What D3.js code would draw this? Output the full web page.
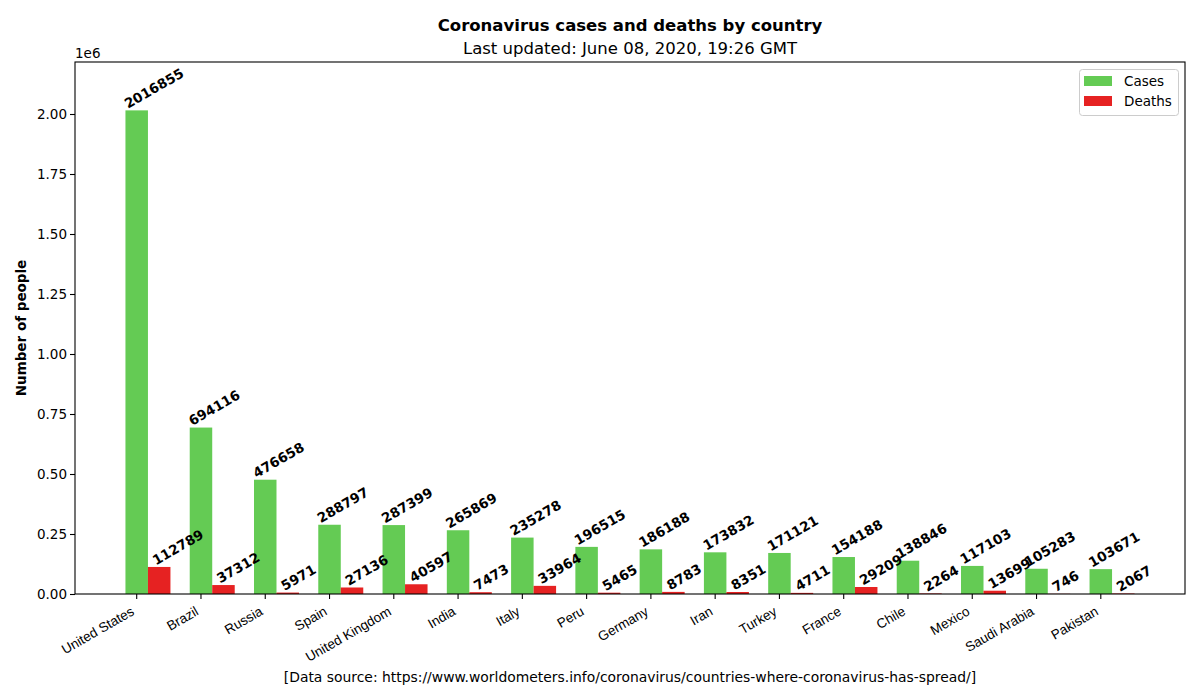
<!DOCTYPE html>
<html><head><meta charset="utf-8">
<script src="https://cdn.jsdelivr.net/npm/d3@7"></script>
<style>body{margin:0;background:#fff}svg{display:block;font-family:"DejaVu Sans",sans-serif}</style>
</head><body>
<svg id="c" width="1200" height="700"></svg>
<script>
const countries = ["United States","Brazil","Russia","Spain","United Kingdom","India","Italy","Peru","Germany","Iran","Turkey","France","Chile","Mexico","Saudi Arabia","Pakistan"];
const cases = [2016855,694116,476658,288797,287399,265869,235278,196515,186188,173832,171121,154188,138846,117103,105283,103671];
const deaths = [112789,37312,5971,27136,40597,7473,33964,5465,8783,8351,4711,29209,2264,13699,746,2067];
const yTicks = [0,0.25e6,0.5e6,0.75e6,1.0e6,1.25e6,1.5e6,1.75e6,2.0e6];
const seriesNames = ["Cases","Deaths"];
const colors = ["#64cb54","#e62222"];
const titleText = "Coronavirus cases and deaths by country";
const subtitleText = "Last updated: June 08, 2020, 19:26 GMT";
const sourceText = "[Data source: https://www.worldometers.info/coronavirus/countries-where-coronavirus-has-spread/]";
const yLabel = "Number of people";

const svg = d3.select("#c");
const L=75,R=1185,T=62,B=594;
const w = 0.35;
const n = countries.length;
const x = d3.scaleLinear().domain([-w/2 - 0.05*(n-1+w*2), (n-1)+1.5*w + 0.05*(n-1+w*2)]).range([L,R]);
const y = d3.scaleLinear().domain([0, d3.max(cases)*1.1]).range([B,T]);

// bars
const g = svg.append("g");
g.selectAll("rect.c").data(cases).join("rect")
  .attr("x",(d,i)=>x(i-w/2)).attr("width",(d,i)=>x(i+w/2)-x(i-w/2))
  .attr("y",d=>y(d)).attr("height",d=>B-y(d)).attr("fill",colors[0]);
g.selectAll("rect.d").data(deaths).join("rect")
  .attr("x",(d,i)=>x(i+w/2)).attr("width",(d,i)=>x(i+1.5*w)-x(i+w/2))
  .attr("y",d=>y(d)).attr("height",d=>B-y(d)).attr("fill",colors[1]);

// value labels
const lab = svg.append("g").attr("font-weight","bold").attr("font-size","13.5px").attr("fill","#000");
cases.forEach((v,i)=>{
  lab.append("text").attr("transform",`translate(${x(i-w/2)+2.5},${y(v)-1.5}) rotate(-30)`).text(v);
  lab.append("text").attr("transform",`translate(${x(i+w/2)+8},${y(deaths[i])-1.5}) rotate(-30)`).text(deaths[i]);
});

// axes frame
svg.append("rect").attr("x",L).attr("y",T).attr("width",R-L).attr("height",B-T)
  .attr("fill","none").attr("stroke","#000").attr("stroke-width",1.1);

// y axis
const ya = svg.append("g");
yTicks.forEach(t=>{
  const yy = Math.round(y(t))+0.5;
  ya.append("line").attr("x1",L-5).attr("x2",L).attr("y1",yy).attr("y2",yy).attr("stroke","#000").attr("stroke-width",1.1);
  ya.append("text").attr("x",L-8).attr("y",yy).attr("dy","0.36em").attr("text-anchor","end").attr("font-size","13.5px").text(d3.format(".2f")(t/1e6));
});
svg.append("text").attr("x",L).attr("y",T-4).attr("font-size","13.5px").text("1e6");
svg.append("text").attr("transform",`translate(26,${(T+B)/2}) rotate(-90)`).attr("text-anchor","middle")
  .attr("font-weight","bold").attr("font-size","13.5px").text(yLabel);

// x axis
const xa = svg.append("g");
countries.forEach((c,i)=>{
  const xx = x(i);
  xa.append("line").attr("x1",xx).attr("x2",xx).attr("y1",B).attr("y2",B+5).attr("stroke","#000").attr("stroke-width",1.1);
  xa.append("text").attr("transform",`translate(${xx-1.5},${B+10+10}) rotate(-30)`).attr("text-anchor","end")
    .style("font-family","'Liberation Sans',Arial,sans-serif").style("font-size","13.5px").text(c);
});

// titles
svg.append("text").attr("x",(L+R)/2).attr("y",31).attr("text-anchor","middle").attr("font-weight","bold").attr("font-size","16.5px").text(titleText);
svg.append("text").attr("x",(L+R)/2).attr("y",54).attr("text-anchor","middle").attr("font-size","16.5px").text(subtitleText);
svg.append("text").attr("x",(L+R)/2).attr("y",682).attr("text-anchor","middle").attr("font-size","13.9px").text(sourceText);

// legend
const lg = svg.append("g");
lg.append("rect").attr("x",1079.5).attr("y",69.5).attr("width",99).attr("height",46).attr("rx",3)
  .attr("fill","#fff").attr("fill-opacity",0.8).attr("stroke","#ccc");
seriesNames.forEach((s,k)=>{
  lg.append("rect").attr("x",1084).attr("y",76+k*20).attr("width",28).attr("height",10).attr("fill",colors[k]);
  lg.append("text").attr("x",1124).attr("y",86+k*20).attr("font-size","13.5px").text(s);
});
</script>
</body></html>
